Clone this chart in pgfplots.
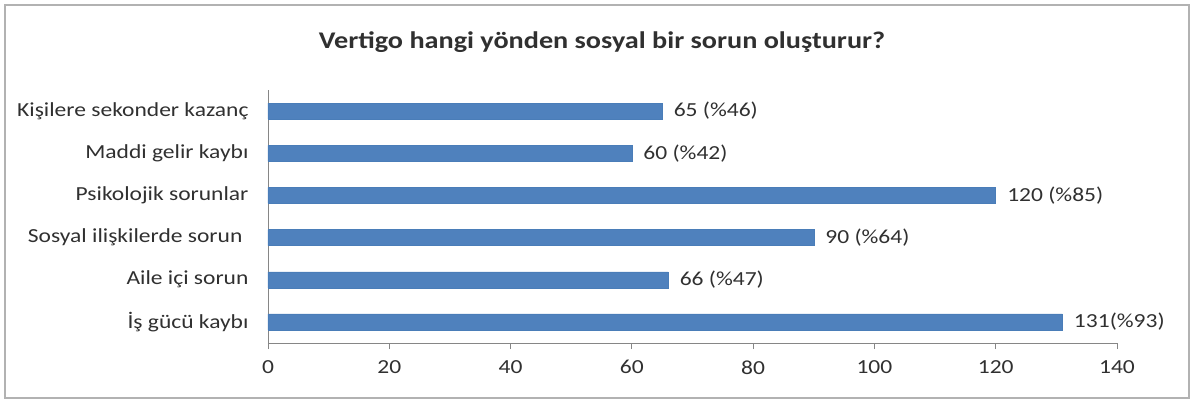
\documentclass[border=0pt]{standalone}
\usepackage{pgfplots}
\pgfplotsset{compat=1.18}
\usepackage{fontspec}
\setmainfont{Carlito}[FakeStretch=1.18]
\definecolor{barblue}{HTML}{4F81BD}
\definecolor{baredge}{HTML}{4A7DB8}
\definecolor{axgray}{HTML}{868686}
\definecolor{txt}{HTML}{303030}
\begin{document}
\begin{tikzpicture}
\path[use as bounding box] (-268bp,-60bp) rectangle (925bp,343bp);
\draw[draw=gray!60, line width=1.2bp] (-263bp,-55bp) rectangle (921bp,338bp);
\node[font=\fontsize{24}{28}\selectfont\bfseries, text=txt] at (334bp,301bp) {Vertigo hangi yönden sosyal bir sorun oluşturur?};
\begin{axis}[
  at={(0,0)}, anchor=south west,
  scale only axis,
  width=849bp, height=253bp,
  xmin=0, xmax=140,
  ymin=-0.5, ymax=5.5,
  xtick={0,20,...,140},
  ytick={0,1,2,3,4,5},
  yticklabels={İş gücü kaybı, Aile içi sorun, {Sosyal ilişkilerde sorun\hspace*{6bp}}, Psikolojik sorunlar, Maddi gelir kaybı, Kişilere sekonder kazanç},
  minor ytick={-0.5,0.5,...,5.5},
  axis x line*=bottom,
  axis y line*=left,
  axis line style={draw=axgray, line width=0.9bp, -},
  tick align=outside,
  major tick length=6bp,
  minor tick length=6bp,
  ytick style={draw=none},
  minor tick style={draw=axgray, line width=0.9bp},
  xtick style={draw=axgray, line width=0.9bp},
  every tick label/.append style={font=\fontsize{20}{23}\selectfont, text=txt},
  /pgf/number format/assume math mode=true,
  xticklabel style={yshift=-8bp},
  yticklabel style={xshift=-10bp},
  xbar,
  bar width=16bp,
  clip=false,
  nodes near coords,
  nodes near coords align={horizontal},
  point meta=explicit symbolic,
  every node near coord/.append style={font=\fontsize{20}{23}\selectfont, text=txt, anchor=west, xshift=8bp},
]
\addplot[fill=barblue, draw=baredge, line width=0.5bp] table[meta=label, row sep=\\] {
x y label\\
131 0 {131(\%93)}\\
66 1 {66 (\%47)}\\
90 2 {90 (\%64)}\\
120 3 {120 (\%85)}\\
60 4 {60 (\%42)}\\
65 5 {65 (\%46)}\\
};
\end{axis}
\end{tikzpicture}
\end{document}
